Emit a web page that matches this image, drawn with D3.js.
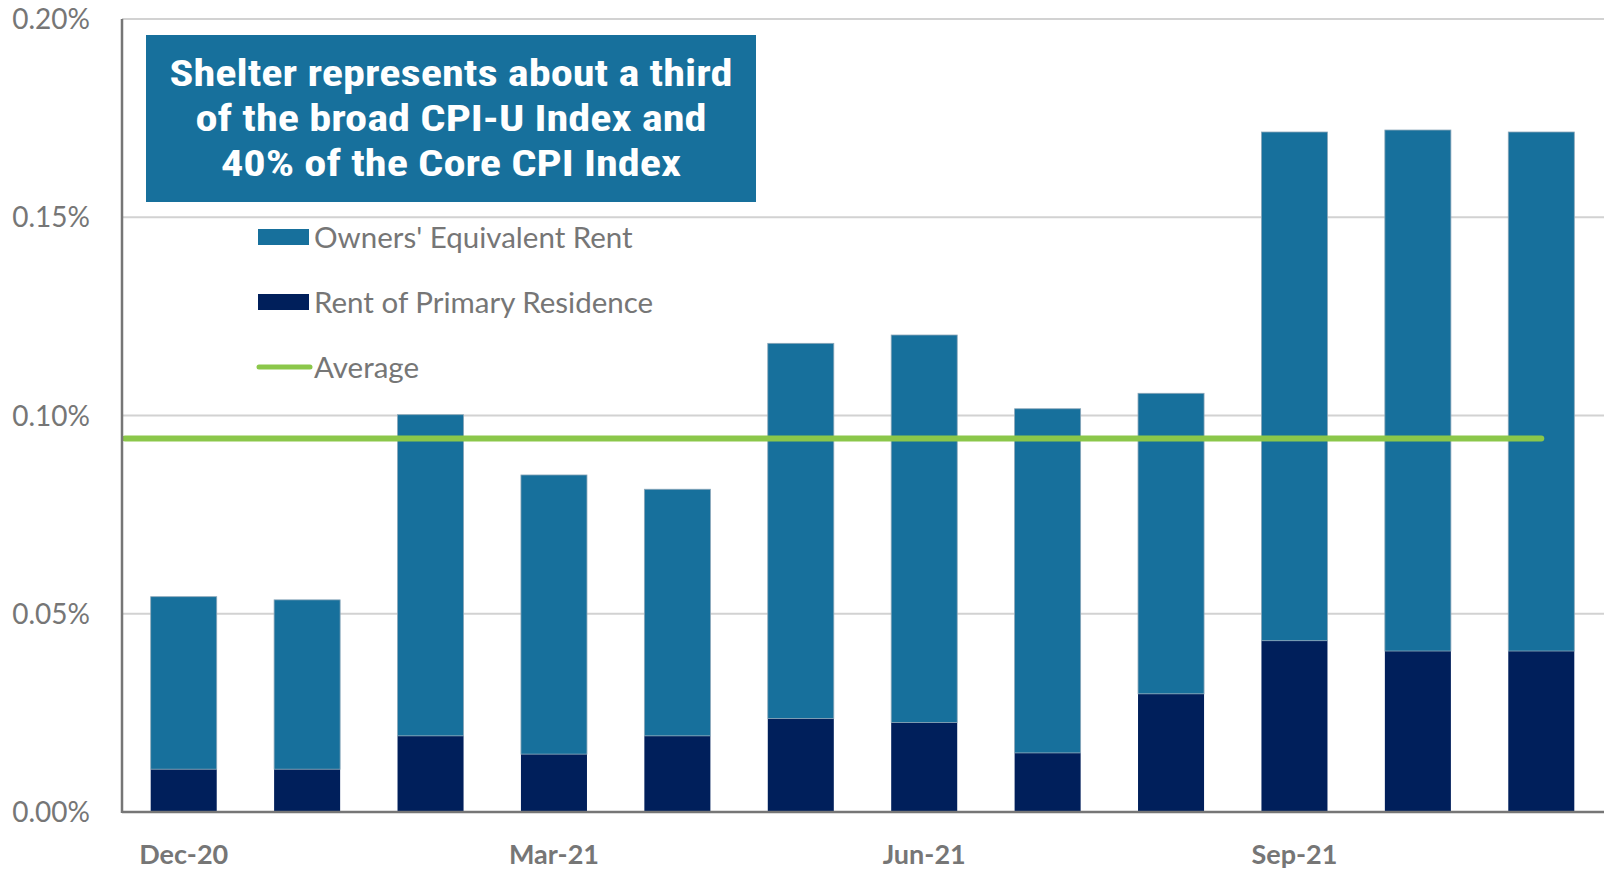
<!DOCTYPE html>
<html>
<head>
<meta charset="utf-8">
<script src="https://cdn.jsdelivr.net/npm/d3@7"></script>
<style>
  body { margin: 0; background: #fff; }
  svg { display: block; }
</style>
</head>
<body>
<div class="chart"></div>
<script>
// values are in percent points (0.05 = 0.05%)
var months = ["Dec-20", "Jan-21", "Feb-21", "Mar-21", "Apr-21", "May-21", "Jun-21", "Jul-21", "Aug-21", "Sep-21", "Oct-21", "Nov-21"];
var rentPrimary = [0.0108, 0.0108, 0.0192, 0.0146, 0.0192, 0.0236, 0.0226, 0.0149, 0.0298, 0.0432, 0.0406, 0.0406];
var ownersEquiv = [0.0435, 0.0427, 0.0810, 0.0704, 0.0622, 0.0946, 0.0977, 0.0868, 0.0758, 0.1283, 0.1314, 0.1309];
var averageValue = 0.0942;
var yTicks = [0, 0.05, 0.10, 0.15, 0.20];
var xTickLabels = ["Dec-20", "Mar-21", "Jun-21", "Sep-21"];
var titleLines = ["Shelter represents about a third", "of the broad CPI-U Index and", "40% of the Core CPI Index"];
var legendItems = [
    {name: "Owners' Equivalent Rent", type: "bar", color: "#17709c"},
    {name: "Rent of Primary Residence", type: "bar", color: "#001f5b"},
    {name: "Average", type: "line", color: "#8bc74a"}
];

var width = 1604, height = 872;
var plotLeft = 122, plotRight = 1603, plotTop = 19, plotBottom = 812;
var oerColor = "#17709c", rentColor = "#001f5b", avgColor = "#8bc74a";
var greyText = "#767676";

var svg = d3.select(".chart").append("svg").attr("width", width).attr("height", height);

var x = d3.scaleBand().domain(months).range([plotLeft, plotRight]).paddingInner(0.465).paddingOuter(0.2325);
var y = d3.scaleLinear().domain([0, 0.20]).range([plotBottom, plotTop]);

// gridlines
svg.append("g").selectAll("line").data(yTicks.slice(1)).enter().append("line")
    .attr("x1", plotLeft).attr("x2", width)
    .attr("y1", function(d) { return y(d); }).attr("y2", function(d) { return y(d); })
    .attr("stroke", "#d2d2d2").attr("stroke-width", 2);

// y tick labels
svg.append("g").selectAll("text").data(yTicks).enter().append("text")
    .attr("x", 90).attr("y", function(d) { return y(d); })
    .attr("dy", "0.36em")
    .attr("text-anchor", "end")
    .attr("font-family", "Lato, 'Open Sans', sans-serif")
    .attr("font-size", 28)
    .attr("fill", greyText)
    .text(function(d) { return d3.format(".2f")(d) + "%"; });

// stacked bars
var bars = svg.append("g");
for (var i = 0; i < months.length; i++) {
    var bx = x(months[i]);
    bars.append("rect")
        .attr("x", bx).attr("width", x.bandwidth())
        .attr("y", y(rentPrimary[i])).attr("height", y(0) - y(rentPrimary[i]))
        .attr("fill", rentColor);
    bars.append("rect")
        .attr("x", bx).attr("width", x.bandwidth())
        .attr("y", y(rentPrimary[i] + ownersEquiv[i])).attr("height", y(rentPrimary[i]) - y(rentPrimary[i] + ownersEquiv[i]))
        .attr("fill", oerColor)
        .attr("stroke", "#8aa6b8").attr("stroke-width", 0.8);
}

// average line
var lastMonth = months[months.length - 1];
svg.append("line")
    .attr("x1", plotLeft + 3).attr("x2", x(lastMonth) + x.bandwidth() / 2)
    .attr("y1", y(averageValue)).attr("y2", y(averageValue))
    .attr("stroke", avgColor).attr("stroke-width", 6).attr("stroke-linecap", "round");

// axes lines
svg.append("line").attr("x1", plotLeft).attr("x2", plotLeft).attr("y1", plotTop).attr("y2", plotBottom + 1)
    .attr("stroke", "#767676").attr("stroke-width", 2.5);
svg.append("line").attr("x1", plotLeft).attr("x2", width).attr("y1", plotBottom).attr("y2", plotBottom)
    .attr("stroke", "#767676").attr("stroke-width", 2.5);

// x labels
svg.append("g").selectAll("text").data(xTickLabels).enter().append("text")
    .attr("x", function(d) { return x(d) + x.bandwidth() / 2; })
    .attr("y", 864)
    .attr("text-anchor", "middle")
    .attr("font-family", "Lato, 'Open Sans', sans-serif")
    .attr("font-weight", "bold")
    .attr("font-size", 27)
    .attr("fill", greyText)
    .text(function(d) { return d; });

// title box
svg.append("rect").attr("x", 146).attr("y", 35).attr("width", 610).attr("height", 167).attr("fill", oerColor);
svg.append("g").attr("transform", "translate(451,0) scale(1.2,1)")
    .selectAll("text").data(titleLines).enter().append("text")
    .attr("x", 0)
    .attr("y", function(d, i) { return 73 + i * 45; })
    .attr("dy", "0.36em")
    .attr("text-anchor", "middle")
    .attr("font-family", "'Liberation Sans Narrow', 'Roboto Condensed', sans-serif")
    .attr("font-weight", "bold")
    .attr("font-size", 37)
    .attr("fill", "#fff")
    .text(function(d) { return d; });

// legend
var legend = svg.append("g");
for (var k = 0; k < legendItems.length; k++) {
    var it = legendItems[k];
    var ly = 237 + k * 65;
    if (it.type == "bar") {
        legend.append("rect").attr("x", 258).attr("y", ly - 8).attr("width", 51).attr("height", 16).attr("fill", it.color);
    } else {
        legend.append("line").attr("x1", 259).attr("x2", 310).attr("y1", ly).attr("y2", ly)
            .attr("stroke", it.color).attr("stroke-width", 5).attr("stroke-linecap", "round");
    }
    legend.append("text").attr("x", 314).attr("y", ly).attr("dy", "0.36em")
        .attr("font-family", "Lato, 'Open Sans', sans-serif")
        .attr("font-size", 29.5)
        .attr("fill", greyText)
        .text(it.name);
}
</script>
</body>
</html>
